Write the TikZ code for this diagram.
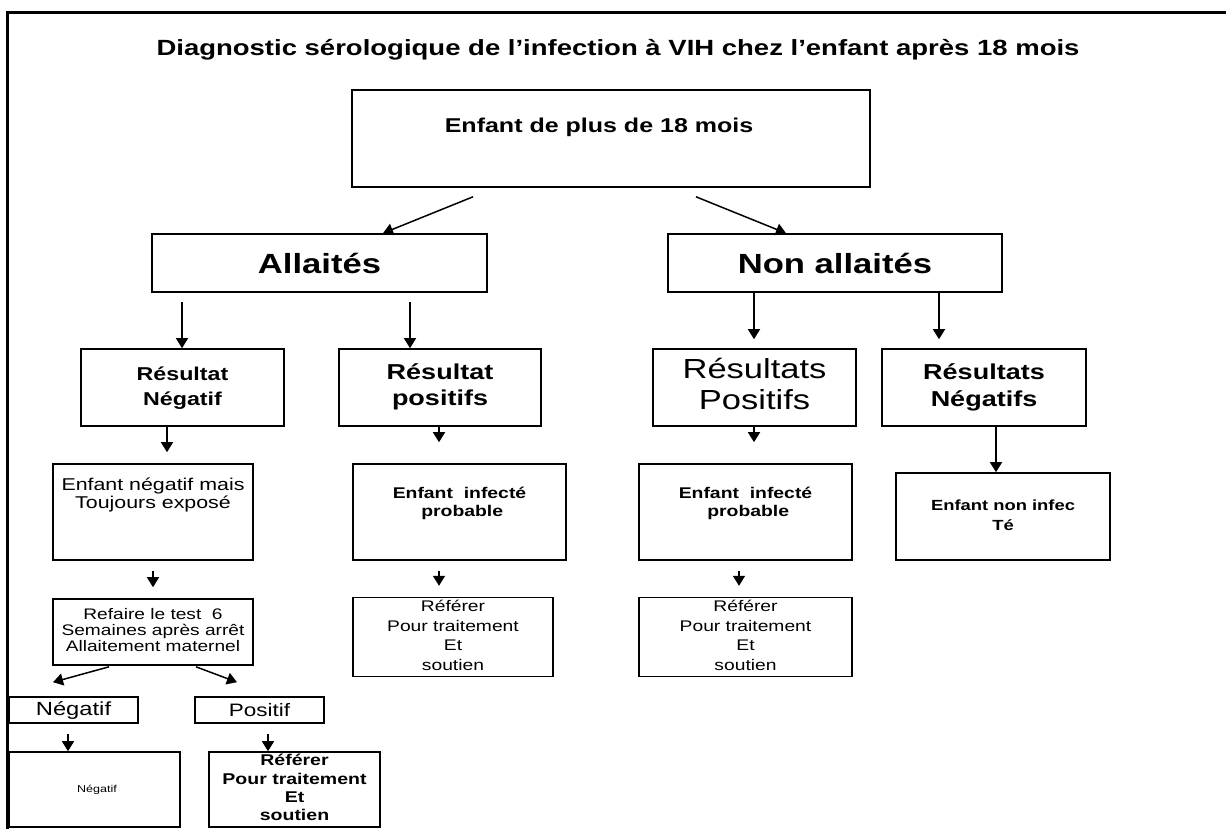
\documentclass[tikz,border=0pt]{standalone}
\usepackage{fontspec}
\setmainfont{Liberation Sans}[FakeStretch=1.25]
\usetikzlibrary{arrows.meta,calc}
\newcommand{\lns}[2][0pt]{\begin{tabular}{@{}c@{}}#2\\[#1]\end{tabular}}
\tikzset{
  box/.style={draw, line width=1.6pt, inner sep=0pt, align=center},
  arr/.style={line width=1.5pt, -{Triangle[length=10pt,width=12pt]}},
}
\begin{document}
\begin{tikzpicture}[x=1pt,y=-1pt]
\useasboundingbox (0,0) rectangle (1226,829);
\draw[line width=3pt] (7,829) -- (7,13) -- (1226,13);

\node (title) at (618,50) {\fontsize{22}{25}\selectfont\bfseries Diagnostic sérologique de l’infection à VIH chez l’enfant après 18 mois};

\node[box, minimum width=518pt, minimum height=97pt, font=\fontsize{20}{23}\selectfont\bfseries] (top) at (611,138.5) {\lns[21pt]{Enfant de plus de 18 mois\hspace*{24pt}}};

\node[box, minimum width=335pt, minimum height=58pt, font=\fontsize{27.7}{32}\selectfont\bfseries] (all) at (319.5,263) {Allaités};
\node[box, minimum width=334pt, minimum height=58pt, font=\fontsize{27.7}{32}\selectfont\bfseries] (non) at (835,263) {Non allaités};

\node[box, minimum width=203pt, minimum height=77pt, font=\fontsize{18.6}{25}\selectfont\bfseries] (rn) at (182.5,387.5) {\lns{Résultat\\Négatif}};
\node[box, minimum width=202pt, minimum height=77pt, font=\fontsize{21.6}{26}\selectfont\bfseries] (rp) at (440,387.5) {\lns{Résultat\\positifs}};
\node[box, minimum width=203pt, minimum height=77pt, font=\fontsize{27.6}{31}\selectfont] (rP) at (754.5,387.5) {\lns{Résultats\\Positifs}};
\node[box, minimum width=204pt, minimum height=77pt, font=\fontsize{21.6}{27}\selectfont\bfseries] (rN) at (984,387.5) {\lns{Résultats\\Négatifs}};

\node[box, minimum width=200pt, minimum height=96pt, font=\fontsize{17.1}{18}\selectfont] (en) at (153,512) {\lns[32pt]{Enfant négatif mais\\Toujours exposé}};
\node[box, minimum width=213pt, minimum height=96pt, font=\fontsize{15.5}{18}\selectfont\bfseries] (ei) at (459.5,512) {\lns[16pt]{Enfant\ \ infecté\\\ probable}};
\node[box, minimum width=213pt, minimum height=96pt, font=\fontsize{15.5}{18}\selectfont\bfseries] (eiR) at (745.5,512) {\lns[16pt]{Enfant\ \ infecté\\\ probable}};
\node[box, minimum width=214pt, minimum height=87pt, font=\fontsize{14.7}{20}\selectfont\bfseries] (eni) at (1003,516.5) {\lns{Enfant non infec\\Té}};

\node[box, minimum width=200pt, minimum height=66pt, font=\fontsize{15.3}{15.2}\selectfont] (rf) at (153,632) {\lns{Refaire le test\ \ 6\\Semaines après arrêt\\Allaitement maternel}};
\node[box, minimum width=200pt, minimum height=76pt, font=\fontsize{15.4}{19.7}\selectfont] (ref1) at (453,637) {\lns{Référer\\Pour traitement\\Et\\soutien}};
\node[box, minimum width=213pt, minimum height=76pt, font=\fontsize{15.4}{19.7}\selectfont] (ref2) at (745.5,637) {\lns{Référer\\Pour traitement\\Et\\soutien}};

\node[box, minimum width=129pt, minimum height=26pt, font=\fontsize{19}{22}\selectfont] (neg) at (73.5,710) {Négatif};
\node[box, minimum width=129pt, minimum height=26pt, font=\fontsize{18}{22}\selectfont] (pos) at (259.5,710) {Positif};

\node[box, minimum width=171pt, minimum height=75pt, font=\fontsize{10}{12}\selectfont] (negB) at (94.5,789.5) {\hspace*{5pt}Négatif};
\node[box, minimum width=171pt, minimum height=75pt, font=\fontsize{15.6}{18.3}\selectfont\bfseries] (refB) at (294.5,789.5) {\lns{Référer\\Pour traitement\\Et\\soutien}};

% connectors
\draw[arr] ($(top.south -| 473,0)+(0,9)$) -- (all.north -| 383,0);
\draw[arr] ($(top.south -| 696,0)+(0,9)$) -- (non.north -| 786,0);

\draw[arr] ($(all.south -| 182,0)+(0,9)$) -- (rn.north -| 182,0);
\draw[arr] ($(all.south -| 410,0)+(0,9)$) -- (rp.north -| 410,0);
\draw[arr] (non.south -| 754,0) -- ($(rP.north -| 754,0)+(0,-9)$);
\draw[arr] (non.south -| 939,0) -- ($(rN.north -| 939,0)+(0,-9)$);

\draw[arr] (rn.south -| 167,0) -- ($(en.north -| 167,0)+(0,-11)$);
\draw[arr] (rp.south -| 439,0) -- ($(ei.north -| 439,0)+(0,-21)$);
\draw[arr] (rP.south -| 754,0) -- ($(eiR.north -| 754,0)+(0,-21)$);
\draw[arr] (rN.south -| 996,0) -- (eni.north -| 996,0);

\draw[arr] ($(en.south -| 153,0)+(0,10)$) -- ($(rf.north -| 153,0)+(0,-11)$);
\draw[arr] ($(ei.south -| 439,0)+(0,10)$) -- ($(ref1.north -| 439,0)+(0,-11)$);
\draw[arr] ($(eiR.south -| 739,0)+(0,10)$) -- ($(ref2.north -| 739,0)+(0,-11)$);

\draw[arr] ($(rf.south -| 109,0)+(0,1)$) -- ($(neg.north -| 53,0)+(0,-14)$);
\draw[arr] ($(rf.south -| 196,0)+(0,1)$) -- ($(pos.north -| 237,0)+(0,-14)$);

\draw[arr] ($(neg.south -| 68,0)+(0,10)$) -- (negB.north -| 68,0);
\draw[arr] ($(pos.south -| 268,0)+(0,10)$) -- (refB.north -| 268,0);
\end{tikzpicture}
\end{document}
